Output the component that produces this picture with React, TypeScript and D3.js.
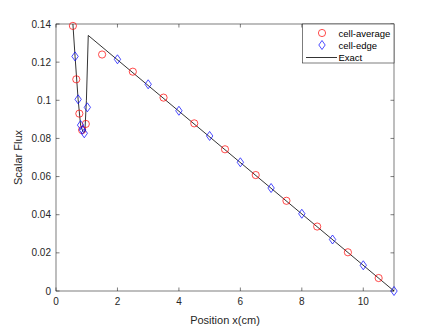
import * as d3 from "d3";

// Exact solution (black line)
const exactX = [0.55, 0.62, 0.72, 0.8, 0.87, 0.9, 0.94, 0.99, 1.05, 11];
const exactY = [0.14, 0.123, 0.1005, 0.087, 0.0838, 0.0832, 0.0836, 0.1, 0.134, 0];

// cell-average (red circles)
const avgX = [0.55, 0.66, 0.76, 0.85, 0.97, 1.5, 2.5, 3.5, 4.5, 5.5, 6.5, 7.5, 8.5, 9.5, 10.5];
const avgY = [0.139, 0.111, 0.093, 0.0844, 0.0876, 0.124, 0.115, 0.1014, 0.0879, 0.0743, 0.0608, 0.0473, 0.0338, 0.0203, 0.0068];

// cell-edge (blue diamonds)
const edgeX = [0.62, 0.72, 0.8, 0.86, 0.92, 1.02, 2, 3, 4, 5, 6, 7, 8, 9, 10, 11];
const edgeY = [0.123, 0.1005, 0.087, 0.0845, 0.0827, 0.0963, 0.1215, 0.1084, 0.0945, 0.0813, 0.0675, 0.054, 0.0405, 0.027, 0.0135, 0];

const xTicks = [0, 2, 4, 6, 8, 10];
const yTicks = [0, 0.02, 0.04, 0.06, 0.08, 0.1, 0.12, 0.14];

const legendLabels = ["cell-average", "cell-edge", "Exact"];

const W = 436;
const H = 327;
const left = 56;
const right = 394;
const top = 24;
const bottom = 291;

const axisColor = "#262626";
const font = "'Liberation Sans', Arial, sans-serif";

const diamond = (cx: number, cy: number) =>
  `M${cx},${cy - 4.5}L${cx + 3.2},${cy}L${cx},${cy + 4.5}L${cx - 3.2},${cy}Z`;

const App = () => {
  const x = d3.scaleLinear().domain([0, 11]).range([left, right]);
  const y = d3.scaleLinear().domain([0, 0.14]).range([bottom, top]);

  const line = d3
    .line<number>()
    .x((d, i) => x(exactX[i]))
    .y((d) => y(d));

  const tickLen = 3.5;

  return (
    <svg
      width={W}
      height={H}
      style={{ position: "absolute", left: 0, top: 0, background: "#fff" }}
      fontFamily={font}
    >
      <rect x={0} y={0} width={W} height={H} fill="#fff" />

      {/* axes box */}
      <rect
        x={left}
        y={top}
        width={right - left}
        height={bottom - top}
        fill="none"
        stroke={axisColor}
        strokeWidth={0.6}
      />

      {/* x ticks */}
      {xTicks.map((t) => (
        <g key={"xt" + t}>
          <line x1={x(t)} x2={x(t)} y1={bottom} y2={bottom - tickLen} stroke={axisColor} strokeWidth={0.6} />
          <line x1={x(t)} x2={x(t)} y1={top} y2={top + tickLen} stroke={axisColor} strokeWidth={0.6} />
          <text x={x(t)} y={bottom + 14} fontSize={10} fill={axisColor} textAnchor="middle">
            {t}
          </text>
        </g>
      ))}

      {/* y ticks */}
      {yTicks.map((t) => (
        <g key={"yt" + t}>
          <line x1={left} x2={left + tickLen} y1={y(t)} y2={y(t)} stroke={axisColor} strokeWidth={0.6} />
          <line x1={right} x2={right - tickLen} y1={y(t)} y2={y(t)} stroke={axisColor} strokeWidth={0.6} />
          <text x={left - 5} y={y(t) + 3.5} fontSize={10} fill={axisColor} textAnchor="end">
            {t}
          </text>
        </g>
      ))}

      {/* axis labels */}
      <text x={(left + right) / 2} y={bottom + 33} fontSize={11} fill={axisColor} textAnchor="middle">
        Position x(cm)
      </text>
      <text
        transform={`translate(22,${(top + bottom) / 2}) rotate(-90)`}
        fontSize={11}
        fill={axisColor}
        textAnchor="middle"
      >
        Scalar Flux
      </text>

      {/* exact line */}
      <path d={line(exactY) || ""} fill="none" stroke="#000" strokeWidth={0.8} />

      {/* cell-average */}
      {avgX.map((v, i) => (
        <circle key={"a" + i} cx={x(v)} cy={y(avgY[i])} r={3.6} fill="none" stroke="#ff0000" strokeWidth={0.7} />
      ))}

      {/* cell-edge */}
      {edgeX.map((v, i) => (
        <path key={"e" + i} d={diamond(x(v), y(edgeY[i]))} fill="none" stroke="#0000ff" strokeWidth={0.7} />
      ))}

      {/* legend */}
      <g>
        <rect x={302.5} y={top} width={right - 302.5} height={39} fill="#fff" stroke={axisColor} strokeWidth={0.6} />
        <circle cx={322} cy={33} r={3.6} fill="none" stroke="#ff0000" strokeWidth={0.7} />
        <path d={diamond(322, 45)} fill="none" stroke="#0000ff" strokeWidth={0.7} />
        <line x1={306} x2={337} y1={57.5} y2={57.5} stroke="#000" strokeWidth={0.8} />
        {legendLabels.map((l, i) => (
          <text key={l} x={338.5} y={36.5 + i * 12.3} fontSize={9.5} fill="#000">
            {l}
          </text>
        ))}
      </g>
    </svg>
  );
};

export default App;
